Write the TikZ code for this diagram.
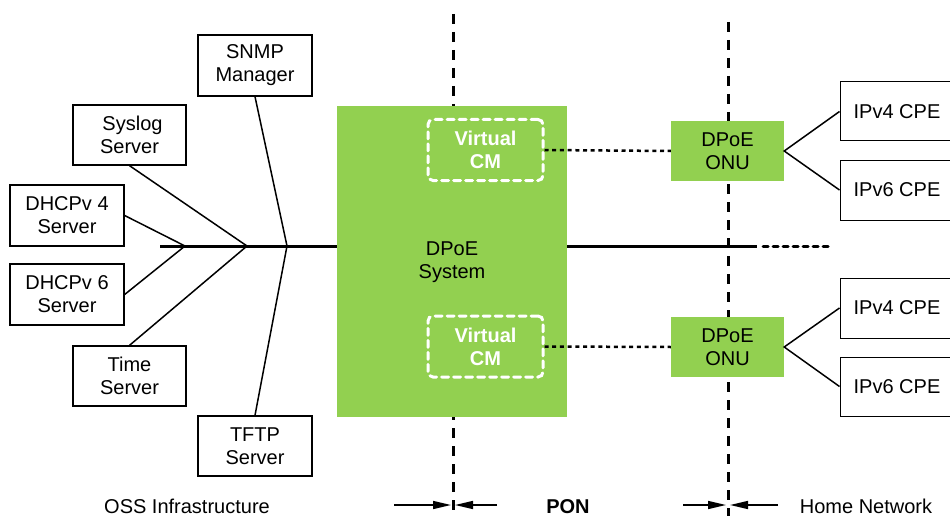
\documentclass[tikz,border=0pt]{standalone}
\usepackage{fontspec}
\setmainfont{Liberation Sans}
\usetikzlibrary{arrows.meta}
\definecolor{dgreen}{HTML}{92D050}
\begin{document}
\begin{tikzpicture}[x=1pt,y=-1pt,
  every node/.style={font=\fontsize{20}{23}\selectfont, inner sep=0pt, align=center},
  srv/.style={draw=black, line width=1.3pt, fill=white, minimum width=114pt, minimum height=61pt},
  cpe/.style={draw=black, line width=1pt, fill=white, minimum width=114pt, minimum height=59pt},
  grn/.style={fill=dgreen, draw=none},
  vcm/.style={draw=white, line width=3pt, dash pattern=on 7pt off 5pt, line cap=round, rounded corners=5pt, text=white, font=\fontsize{20}{23}\selectfont\bfseries, minimum width=115pt, minimum height=61pt},
  conn/.style={line width=1.5pt},
  bus/.style={line width=3pt},
  bdot/.style={line width=3pt, dash pattern=on 5pt off 5pt, line cap=round},
  vdash/.style={line width=3pt, dash pattern=on 10pt off 8pt},
  cdot/.style={line width=2.5pt, dash pattern=on 4pt off 3.7pt},
  dimarr/.style={line width=1.5pt, -{Triangle[length=18pt,width=8pt]}},
  lbl/.style={anchor=base, align=none, text depth=0pt, text height=14pt},
]
\useasboundingbox (0,0) rectangle (950,516);
\clip (0,0) rectangle (950,516);

% vertical boundaries
\coordinate (v1t) at (453,14);
\coordinate (v1b) at (453,516);
\coordinate (v2t) at (728,22);
\coordinate (v2b) at (728,516);
\draw[vdash] (v1t) -- (v1b);
\draw[vdash] (v2t) -- (v2b);

% OSS servers
\node[srv] (snmp) at (255,65.5) {SNMP\\Manager};
\node[srv, minimum width=113pt, minimum height=60pt] (sys) at (129.5,135) {\hspace*{6pt}Syslog\\Server};
\node[srv] (d4) at (67,215.5) {DHCPv 4\\Server};
\node[srv] (d6) at (67,294.5) {DHCPv 6\\Server};
\node[srv, minimum width=113pt, minimum height=60pt] (time) at (129.5,376) {Time\\Server};
\node[srv, minimum height=60pt] (tftp) at (255,446) {TFTP\\Server};

% DPoE system
\node[grn, minimum width=230pt, minimum height=311pt] (dpoe) at (452,261.5) {};
\node (dpoetxt) at (452,262) {DPoE\\System};
\node[vcm] (vcm1) at (485.5,150) {Virtual\\CM};
\node[vcm] (vcm2) at (485.5,346.5) {Virtual\\CM};

% ONUs
\node[grn, minimum width=113pt, minimum height=60pt] (onu1) at (727.5,151) {DPoE\\ONU};
\node[grn, minimum width=113pt, minimum height=60pt] (onu2) at (727.5,347) {DPoE\\ONU};

% CPEs
\node[cpe] (c4a) at (897,111.5) {IPv4 CPE};
\node[cpe, minimum height=60pt] (c6a) at (897,190) {IPv6 CPE};
\node[cpe, minimum height=60pt] (c4b) at (897,308) {IPv4 CPE};
\node[cpe] (c6b) at (897,386.5) {IPv6 CPE};

% bus
\coordinate (busL) at (160,246);
\coordinate (j1) at (185,246);
\coordinate (j2) at (247,246);
\coordinate (j3) at (287,246);
\coordinate (busR) at (757,246);
\coordinate (busE) at (828,246);
\draw[bus] (busL) -- (dpoe.west |- busL);
\draw[bus] (dpoe.east |- busR) -- (busR);
\draw[bdot] (busR) ++(6,0) -- (busE);

% fishbone
\draw[conn] (d4.east) -- (j1) -- (d6.east);
\draw[conn] (sys.south) -- (j2) -- (time.north);
\draw[conn] (snmp.south) -- (j3) -- (tftp.north);

% CM to ONU
\draw[cdot] (vcm1.east) -- (onu1.west);
\draw[cdot] (vcm2.east) -- (onu2.west);

% ONU to CPE
\draw[conn] (c4a.west) -- (onu1.east) -- (c6a.west);
\draw[conn] (c4b.west) -- (onu2.east) -- (c6b.west);

% bottom labels
\coordinate (a1s) at (394,505); \coordinate (a1e) at (451,505);
\coordinate (a2s) at (497,505); \coordinate (a2e) at (455,505);
\coordinate (a3s) at (683,505); \coordinate (a3e) at (726,505);
\coordinate (a4s) at (778,505); \coordinate (a4e) at (730,505);
\draw[dimarr] (a1s) -- (a1e);
\draw[dimarr] (a2s) -- (a2e);
\draw[dimarr] (a3s) -- (a3e);
\draw[dimarr] (a4s) -- (a4e);
\node[lbl] (oss) at (187,513) {OSS Infrastructure};
\node[lbl, font=\fontsize{20}{23}\selectfont\bfseries] (pon) at (568,513) {PON};
\node[lbl] (home) at (866,513) {Home Network};
\end{tikzpicture}
\end{document}
